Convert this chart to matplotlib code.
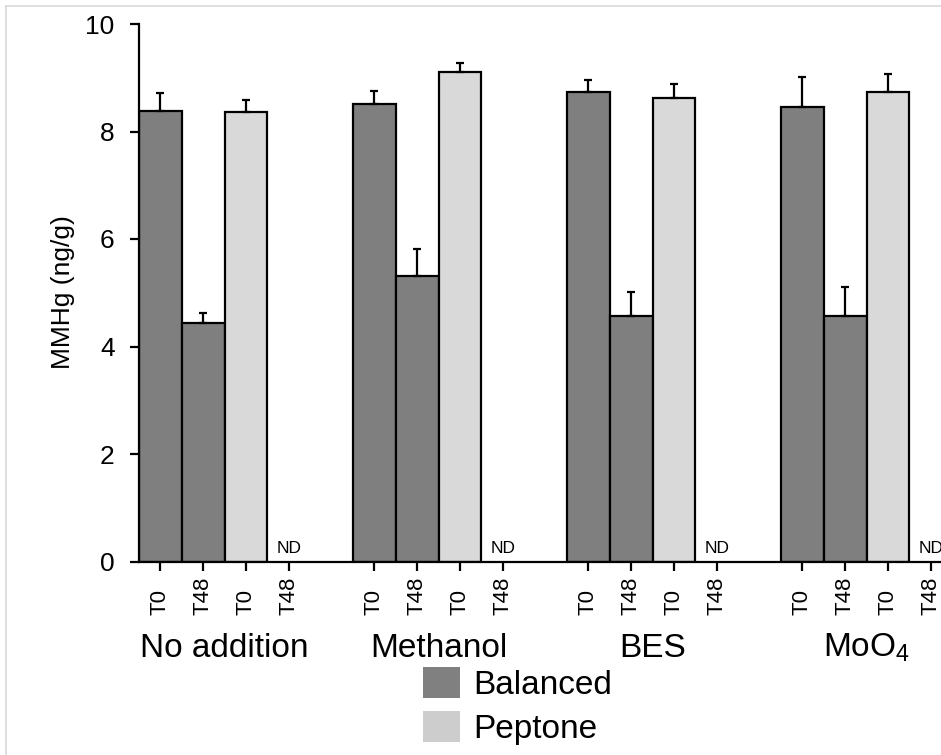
import matplotlib

matplotlib.use("Agg")

import numpy as np
from matplotlib import pyplot as plt
from matplotlib.lines import Line2D
from matplotlib.patches import Patch

plt.rcParams["font.family"] = ["Liberation Sans", "DejaVu Sans"]

TREATMENTS = ["No addition", "Methanol", "BES", r"$\mathregular{MoO_4}$"]
TIMES = ["T0", "T48", "T0", "T48"]
MEDIA = ["Balanced", "Balanced", "Peptone", "Peptone"]

# MMHg (ng/g) per treatment; peptone T48 was not detected
balanced_t0 = [8.39, 8.51, 8.73, 8.46]
balanced_t0_err = [0.33, 0.24, 0.23, 0.56]
balanced_t48 = [4.44, 5.32, 4.56, 4.56]
balanced_t48_err = [0.18, 0.49, 0.45, 0.55]
peptone_t0 = [8.36, 9.11, 8.63, 8.73]
peptone_t0_err = [0.22, 0.17, 0.26, 0.34]
peptone_t48 = [np.nan, np.nan, np.nan, np.nan]
peptone_t48_err = [np.nan, np.nan, np.nan, np.nan]

COLORS = {"Balanced": "#7f7f7f", "Peptone": "#d9d9d9"}
LEGEND_COLORS = {"Balanced": "#808080", "Peptone": "#cdcdcd"}
GROUP_STEP = 5


def main() -> None:
    series = [
        (balanced_t0, balanced_t0_err),
        (balanced_t48, balanced_t48_err),
        (peptone_t0, peptone_t0_err),
        (peptone_t48, peptone_t48_err),
    ]

    fig = plt.figure(figsize=(9.41, 7.55), dpi=100)
    ax = fig.add_axes([139 / 941, 193.5 / 755, 802 / 941, 537.5 / 755])

    tick_pos = []
    for i, (vals, errs) in enumerate(series):
        x = np.arange(len(TREATMENTS)) * GROUP_STEP + i
        vals = np.asarray(vals, dtype=float)
        errs = np.asarray(errs, dtype=float)
        tick_pos.extend(x)
        shown = ~np.isnan(vals)
        ax.bar(x[shown], vals[shown], width=1.0, color=COLORS[MEDIA[i]],
               edgecolor="black", linewidth=1.6, zorder=2)
        ax.errorbar(x[shown], vals[shown], yerr=[np.zeros(shown.sum()), errs[shown]],
                    fmt="none", ecolor="black", elinewidth=1.6, capsize=3.2,
                    capthick=1.6, zorder=3)
        for xi in x[~shown]:
            ax.text(xi, 0.1, "ND", ha="center", va="bottom", fontsize=12.5)

    tick_pos = sorted(tick_pos)
    ax.set_xlim(-0.5, 18.24)
    ax.set_ylim(0, 10)
    ax.set_yticks([0, 2, 4, 6, 8, 10])
    ax.set_xticks(tick_pos)
    ax.set_xticklabels([])
    ax.tick_params(axis="both", direction="out", length=6.5, width=1.6)
    ax.tick_params(axis="y", labelsize=19, pad=11)
    for side in ["top", "right"]:
        ax.spines[side].set_visible(False)
    for side in ["left", "bottom"]:
        ax.spines[side].set_linewidth(1.6)

    trans = ax.get_xaxis_transform()
    for k, xp in enumerate(tick_pos):
        ax.text(xp, -0.0995, TIMES[k % len(TIMES)], transform=trans, rotation=90,
                ha="center", va="bottom", fontsize=16, clip_on=False)
    for g, name in enumerate(TREATMENTS):
        ax.text(g * GROUP_STEP + 1.5, -0.1777, name, transform=trans,
                ha="center", va="baseline", fontsize=24, clip_on=False)

    fig.text(63 / 941, 1 - 292 / 755, "MMHg (ng/g)", rotation=90,
             ha="center", va="center", fontsize=19)

    handles = [Patch(facecolor=LEGEND_COLORS[m], edgecolor="none") for m in ["Balanced", "Peptone"]]
    fig.legend(handles, ["Balanced", "Peptone"], loc="upper left",
               bbox_to_anchor=(423 / 941, 1 - 667 / 755), frameon=False,
               fontsize=24, handlelength=1.1, handleheight=1.06,
               handletextpad=0.4, labelspacing=0.3, borderpad=0,
               borderaxespad=0)

    # thin grey frame along the top and left edges
    fig.add_artist(Line2D([6 / 941, 6 / 941], [0, 1 - 6 / 755], transform=fig.transFigure,
                          color="#d9d9d9", linewidth=1.2))
    fig.add_artist(Line2D([6 / 941, 1], [1 - 6 / 755, 1 - 6 / 755], transform=fig.transFigure,
                          color="#d9d9d9", linewidth=1.2))

    fig.savefig("out.png", dpi=100)


if __name__ == "__main__":
    main()
